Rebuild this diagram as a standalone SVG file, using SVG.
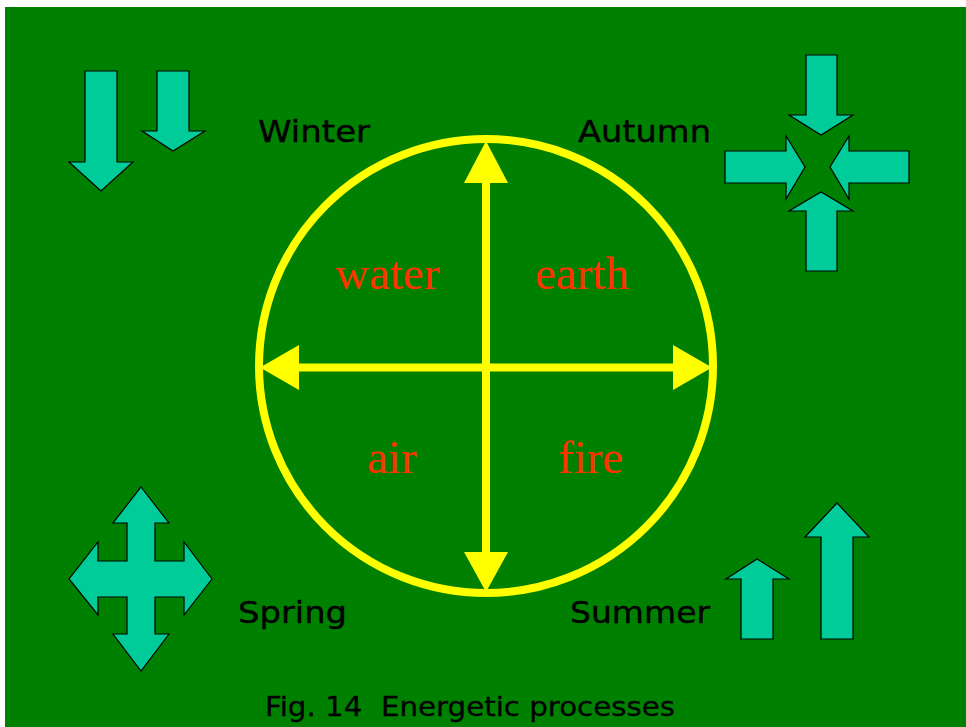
<svg xmlns="http://www.w3.org/2000/svg" width="966" height="727" viewBox="0 0 966 727">
<style>
.bg{fill:#008000}
.arr{fill:#00CC99;stroke:#000;stroke-width:1.2;stroke-linejoin:miter}
.lbl{font-family:"DejaVu Sans",Verdana,sans-serif;font-size:31px;fill:#000;stroke:#000;stroke-width:0.4}
.cap{font-family:"DejaVu Sans",Verdana,sans-serif;font-size:27px;fill:#000;stroke:#000;stroke-width:0.3}
.el{font-family:"Liberation Serif","Times New Roman",serif;font-size:47px;fill:#FF3300}
.ax{stroke:#FFFF00;stroke-width:8;fill:none}
.hd{fill:#FFFF00}
</style>
<rect x="0" y="0" width="966" height="727" fill="#fff"/>
<rect class="bg" x="5" y="7" width="961" height="720"/>
<g id="circle">
<circle class="ax" cx="486" cy="366" r="227"/>
</g>
<g id="connectors">
<line class="ax" x1="486" y1="175" x2="486" y2="560"/>
<line class="ax" x1="292" y1="367.5" x2="680" y2="367.5"/>
<polygon class="hd" points="486,141 508,183 464,183"/>
<polygon class="hd" points="486,592 508,552 464,552"/>
<polygon class="hd" points="260,367.5 299,345 299,390"/>
<polygon class="hd" points="712,367.5 673,345 673,390"/>
</g>
<g id="water"><text class="el" x="335" y="289">water</text></g>
<g id="earth"><text class="el" x="535" y="289">earth</text></g>
<g id="air"><text class="el" x="367" y="473">air</text></g>
<g id="fire"><text class="el" x="558" y="473">fire</text></g>
<g id="winter"><text class="lbl" x="258" y="142" textLength="112" lengthAdjust="spacingAndGlyphs">Winter</text></g>
<g id="autumn"><text class="lbl" x="578" y="142" textLength="133" lengthAdjust="spacingAndGlyphs">Autumn</text></g>
<g id="spring"><text class="lbl" x="238" y="623" textLength="109" lengthAdjust="spacingAndGlyphs">Spring</text></g>
<g id="summer"><text class="lbl" x="570" y="623" textLength="140" lengthAdjust="spacingAndGlyphs">Summer</text></g>
<g id="winter-arrows">
<polygon class="arr" points="85,71 117,71 117,162 133,162 101,191 69,162 85,162"/>
<polygon class="arr" points="157,71 189,71 189,131 205,131 173,151 142,131 157,131"/>
</g>
<g id="autumn-arrows">
<polygon class="arr" points="806,55 837,55 837,115 853,115 821,135 789,115 806,115"/>
<polygon class="arr" points="806,271 837,271 837,211 853,211 821,192 789,211 806,211"/>
<polygon class="arr" points="725,151 786,151 786,136 805,167 786,199 786,183 725,183"/>
<polygon class="arr" points="909,151 849,151 849,136 830,167 849,199 849,183 909,183"/>
</g>
<g id="spring-arrow">
<polygon class="arr" points="141,487 169,523 155,523 155,561 184,561 184,542 212,579 184,615 184,597 155,597 155,634 169,634 141,671 113,634 127,634 127,597 98,597 98,615 69,579 98,542 98,561 127,561 127,523 113,523"/>
</g>
<g id="summer-arrows">
<polygon class="arr" points="741,639 773,639 773,579 789,579 757,559 726,579 741,579"/>
<polygon class="arr" points="821,639 853,639 853,537 869,537 837,503 805,537 821,537"/>
</g>
<g id="caption"><text class="cap" x="265" y="716" textLength="410" lengthAdjust="spacingAndGlyphs" xml:space="preserve">Fig. 14  Energetic processes</text></g>
</svg>
